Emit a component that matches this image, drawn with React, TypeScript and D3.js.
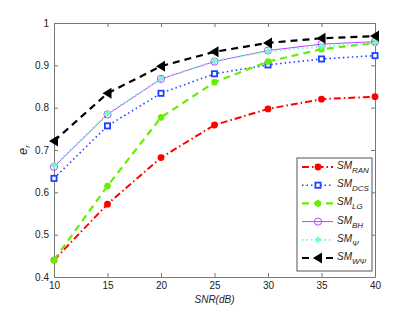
import { useEffect, useRef } from "react";
import * as d3 from "d3";

const snr = [10, 15, 20, 25, 30, 35, 40];
const smRan = [0.44, 0.572, 0.682, 0.759, 0.797, 0.82, 0.826];
const smDcs = [0.633, 0.757, 0.834, 0.88, 0.901, 0.915, 0.923];
const smLg = [0.44, 0.615, 0.777, 0.86, 0.909, 0.938, 0.953];
const smBh = [0.66, 0.784, 0.868, 0.909, 0.935, 0.95, 0.956];
const smPsi = [0.663, 0.786, 0.868, 0.91, 0.933, 0.944, 0.953];
const smWpsi = [0.721, 0.834, 0.898, 0.932, 0.953, 0.964, 0.969];
const xTicks = [10, 15, 20, 25, 30, 35, 40];
const yTicks = [0.4, 0.5, 0.6, 0.7, 0.8, 0.9, 1];

const series = [
  { sub: "RAN", values: smRan, color: "#ff0000", dash: "7,3,1.5,3", width: 2, marker: "dot" },
  { sub: "DCS", values: smDcs, color: "#2040ff", dash: "1.5,3", width: 1.6, marker: "square" },
  { sub: "LG", values: smLg, color: "#66ee00", dash: "7,5", width: 2.2, marker: "star" },
  { sub: "BH", values: smBh, color: "#bb44ff", dash: null, width: 1, marker: "circle" },
  { sub: "\u03a8", values: smPsi, color: "#66ffcc", dash: "1.5,3", width: 1.8, marker: "plus" },
  { sub: "W\u03a8", values: smWpsi, color: "#000000", dash: "7,5", width: 2.2, marker: "triangle" },
];

function drawMarker(g, type, color, cx, cy) {
  if (type === "dot") {
    g.append("circle").attr("cx", cx).attr("cy", cy).attr("r", 3.4).attr("fill", color);
  } else if (type === "square") {
    g.append("rect").attr("x", cx - 2.6).attr("y", cy - 2.6).attr("width", 5.2).attr("height", 5.2)
      .attr("fill", "#fff").attr("stroke", color).attr("stroke-width", 1.8);
  } else if (type === "star") {
    const s = 3.3;
    g.append("path")
      .attr("d", `M${cx - s},${cy}L${cx + s},${cy}M${cx},${cy - s}L${cx},${cy + s}M${cx - s * 0.75},${cy - s * 0.75}L${cx + s * 0.75},${cy + s * 0.75}M${cx - s * 0.75},${cy + s * 0.75}L${cx + s * 0.75},${cy - s * 0.75}`)
      .attr("stroke", color).attr("stroke-width", 2).attr("fill", "none");
  } else if (type === "circle") {
    g.append("circle").attr("cx", cx).attr("cy", cy).attr("r", 3.6)
      .attr("fill", "none").attr("stroke", color).attr("stroke-width", 1);
  } else if (type === "plus") {
    const s = 3;
    g.append("path").attr("d", `M${cx - s},${cy}L${cx + s},${cy}M${cx},${cy - s}L${cx},${cy + s}`)
      .attr("stroke", color).attr("stroke-width", 2.4).attr("fill", "none");
  } else if (type === "triangle") {
    g.append("path").attr("d", `M${cx - 5},${cy}L${cx + 4},${cy - 5.5}L${cx + 4},${cy + 5.5}Z`)
      .attr("fill", color);
  }
}

function renderChart(element) {
  const width = 415, height = 312;
  const margin = { top: 23, right: 40, bottom: 35, left: 54 };
  const svg = d3.select(element).append("svg")
    .attr("width", width).attr("height", height)
    .style("position", "absolute").style("left", 0).style("top", 0)
    .style("font-family", "'Liberation Sans', Arial, sans-serif");

  svg.append("rect").attr("width", width).attr("height", height).attr("fill", "#fff");

  const x = d3.scaleLinear().domain([10, 40]).range([margin.left, width - margin.right]);
  const y = d3.scaleLinear().domain([0.4, 1]).range([height - margin.bottom, margin.top]);
  const axisColor = "#777";

  const styleAxis = (g) => {
    g.select(".domain").attr("stroke", axisColor);
    g.selectAll(".tick line").attr("stroke", axisColor);
    g.selectAll("text").attr("fill", "#222").style("font-size", "10px");
  };

  svg.append("g").attr("transform", `translate(0,${y(0.4)})`)
    .call(d3.axisBottom(x).tickValues(xTicks).tickSizeInner(-4).tickSizeOuter(0).tickPadding(5).tickFormat(d3.format("d")))
    .call(styleAxis);
  svg.append("g").attr("transform", `translate(0,${y(1)})`)
    .call(d3.axisTop(x).tickValues(xTicks).tickSizeInner(-4).tickSizeOuter(0).tickFormat(() => ""))
    .call(styleAxis);
  svg.append("g").attr("transform", `translate(${x(10)},0)`)
    .call(d3.axisLeft(y).tickValues(yTicks).tickSizeInner(-4).tickSizeOuter(0).tickPadding(5).tickFormat((d) => (d === 1 ? "1" : d3.format(".1f")(d))))
    .call(styleAxis);
  svg.append("g").attr("transform", `translate(${x(40)},0)`)
    .call(d3.axisRight(y).tickValues(yTicks).tickSizeInner(-4).tickSizeOuter(0).tickFormat(() => ""))
    .call(styleAxis);

  const line = d3.line().x((d) => x(d[0])).y((d) => y(d[1]));

  series.forEach((s) => {
    const pts = snr.map((v, i) => [v, s.values[i]]);
    svg.append("path").datum(pts).attr("d", line)
      .attr("fill", "none").attr("stroke", s.color).attr("stroke-width", s.width)
      .attr("stroke-dasharray", s.dash);
    const mg = svg.append("g");
    pts.forEach((p) => drawMarker(mg, s.marker, s.color, x(p[0]), y(p[1])));
  });

  // axis labels
  svg.append("text").attr("x", (x(10) + x(40)) / 2).attr("y", 303)
    .attr("text-anchor", "middle").style("font-size", "10px").style("font-style", "italic")
    .attr("fill", "#222").text("SNR(dB)");
  const yl = svg.append("text").attr("transform", `translate(27,150) rotate(-90)`)
    .attr("text-anchor", "middle").style("font-size", "13px").attr("fill", "#222");
  yl.append("tspan").style("font-style", "italic").text("e");
  yl.append("tspan").attr("dy", 3).style("font-size", "8px").style("font-style", "italic").text("r");

  // legend
  const lg = svg.append("g");
  lg.append("rect").attr("x", 297).attr("y", 158).attr("width", 75).attr("height", 113)
    .attr("fill", "#fff").attr("stroke", "#555").attr("stroke-width", 1);
  series.forEach((s, i) => {
    const cy = 167 + i * 18.2;
    lg.append("line").attr("x1", 302).attr("x2", 333).attr("y1", cy).attr("y2", cy)
      .attr("stroke", s.color).attr("stroke-width", s.width).attr("stroke-dasharray", s.dash);
    drawMarker(lg, s.marker, s.color, 318, cy);
    const t = lg.append("text").attr("x", 337).attr("y", cy + 2).attr("fill", "#222")
      .style("font-size", "10px").style("font-style", "italic");
    t.append("tspan").text("SM");
    t.append("tspan").attr("dy", 4).style("font-size", "8px").text(s.sub);
  });
}

export default function App() {
  const ref = useRef(null);
  useEffect(() => {
    if (ref.current && !ref.current.firstChild) {
      renderChart(ref.current);
    }
  }, [ref]);
  return <div ref={ref}></div>;
}
